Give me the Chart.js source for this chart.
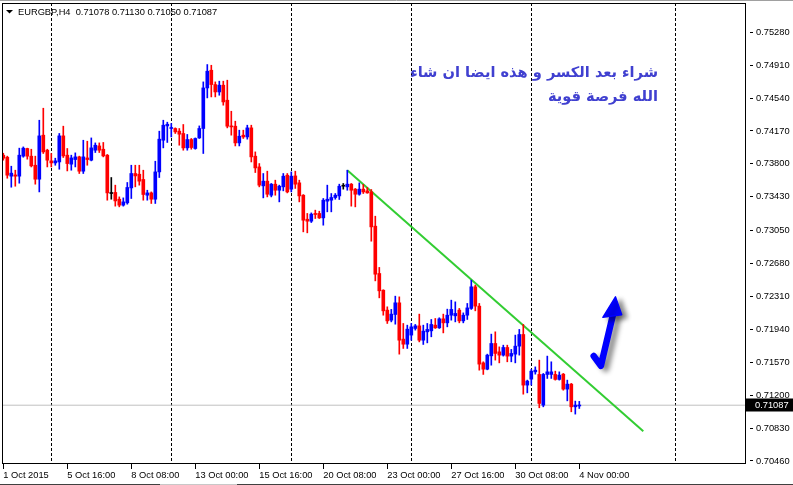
<!DOCTYPE html>
<html><head><meta charset="utf-8">
<script src="https://cdn.jsdelivr.net/npm/chart.js@4"></script>
<style>html,body{margin:0;padding:0;background:#fff;overflow:hidden}canvas{display:block}</style>
</head><body>
<canvas id="c" width="793" height="485"></canvas>
<script>
// ---- data (EURGBP H4) ----
const opens = [0.73898,0.73875,0.73662,0.73676,0.73662,0.73887,0.73973,0.73887,0.73785,0.73628,
0.74123,0.73954,0.73834,0.73811,0.73822,0.74115,0.73898,0.73797,0.73849,0.73879,
0.73718,0.73867,0.73842,0.73954,0.74002,0.73965,0.73898,0.73467,0.73479,0.73403,
0.73336,0.73362,0.73530,0.73692,0.73684,0.73625,0.73448,0.73474,0.73403,0.73710,
0.74066,0.74227,0.74198,0.74198,0.74168,0.74142,0.73980,0.74074,0.73973,0.74092,
0.74198,0.74654,0.74853,0.74692,0.74609,0.74685,0.74516,0.74227,0.74224,0.74036,
0.74123,0.74103,0.74205,0.73887,0.73766,0.73553,0.73606,0.73448,0.73572,0.73504,
0.73542,0.73673,0.73516,0.73665,0.73587,0.73448,0.73178,0.73156,0.73243,0.73243,
0.73193,0.73381,0.73392,0.73422,0.73440,0.73549,0.73542,0.73572,0.73516,0.73459,
0.73516,0.73497,0.73485,0.73100,0.72568,0.72380,0.72156,0.72043,0.72107,0.72238,
0.71830,0.71773,0.71875,0.71950,0.71979,0.71818,0.71912,0.71923,0.71987,0.71957,
0.72058,0.72013,0.72099,0.72092,0.72156,0.72035,0.72099,0.72175,0.72418,0.72201,
0.71563,0.71492,0.71642,0.71781,0.71687,0.71650,0.71736,0.71639,0.71661,0.71751,
0.71882,0.71313,0.71380,0.71462,0.71433,0.71088,0.71433,0.71433,0.71433,0.71377,
0.71436,0.71268,0.71324,0.71069,0.71078];
const highs = [0.73920,0.73887,0.73774,0.73729,0.73977,0.73991,0.73977,0.73965,0.73887,0.74291,
0.74426,0.73965,0.73917,0.73864,0.74142,0.74224,0.73973,0.73898,0.73924,0.73887,
0.74066,0.74055,0.74092,0.74036,0.74036,0.74041,0.73906,0.73647,0.73561,0.73429,
0.73418,0.73591,0.73785,0.73785,0.73785,0.73729,0.73504,0.73485,0.73830,0.74168,
0.74291,0.74269,0.74254,0.74205,0.74198,0.74243,0.74131,0.74086,0.74092,0.74227,
0.74722,0.74917,0.74909,0.74722,0.74730,0.74730,0.74741,0.74392,0.74280,0.74179,
0.74179,0.74235,0.74235,0.73935,0.73804,0.73692,0.73718,0.73580,0.73617,0.73561,
0.73692,0.73692,0.73710,0.73718,0.73617,0.73455,0.73243,0.73249,0.73280,0.73268,
0.73411,0.73561,0.73467,0.73467,0.73572,0.73580,0.73729,0.73580,0.73524,0.73587,
0.73569,0.73535,0.73512,0.73212,0.72636,0.72385,0.72193,0.72164,0.72313,0.72305,
0.72006,0.71987,0.72006,0.71995,0.72111,0.71987,0.72006,0.72051,0.72062,0.72070,
0.72111,0.72167,0.72268,0.72249,0.72175,0.72125,0.72231,0.72493,0.72437,0.72231,
0.71575,0.71661,0.71886,0.71912,0.71743,0.71762,0.71762,0.71714,0.71875,0.71939,
0.71995,0.71369,0.71489,0.71518,0.71594,0.71444,0.71639,0.71575,0.71470,0.71462,
0.71444,0.71369,0.71332,0.71133,0.71130];
const lows = [0.73842,0.73639,0.73538,0.73549,0.73583,0.73875,0.73853,0.73766,0.73572,0.73485,
0.73917,0.73766,0.73766,0.73785,0.73740,0.73872,0.73721,0.73729,0.73766,0.73692,
0.73692,0.73785,0.73834,0.73928,0.73928,0.73879,0.73392,0.73403,0.73325,0.73317,
0.73325,0.73347,0.73411,0.73542,0.73561,0.73392,0.73392,0.73355,0.73355,0.73647,
0.73980,0.74041,0.74103,0.74142,0.74010,0.73954,0.73954,0.73965,0.73965,0.74086,
0.73917,0.74542,0.74553,0.74553,0.74572,0.74460,0.74205,0.74123,0.74002,0.74002,
0.74086,0.74078,0.73822,0.73703,0.73542,0.73418,0.73429,0.73429,0.73448,0.73373,
0.73497,0.73474,0.73485,0.73524,0.73373,0.73036,0.73025,0.73141,0.73186,0.73186,
0.73111,0.73261,0.73261,0.73403,0.73400,0.73516,0.73504,0.73325,0.73317,0.73448,
0.73467,0.73470,0.72931,0.72485,0.72294,0.72099,0.72006,0.72024,0.71998,0.71661,
0.71725,0.71725,0.71818,0.71931,0.71799,0.71770,0.71788,0.71856,0.71950,0.71950,
0.71900,0.71968,0.72043,0.72024,0.72013,0.72013,0.72051,0.72164,0.72148,0.71481,
0.71433,0.71485,0.71537,0.71594,0.71563,0.71639,0.71575,0.71575,0.71563,0.71650,
0.71211,0.71226,0.71313,0.71436,0.71058,0.71069,0.71388,0.71388,0.71369,0.71369,
0.71256,0.71136,0.71013,0.70987,0.71050];
const closes = [0.73864,0.73673,0.73696,0.73662,0.73898,0.73977,0.73887,0.73778,0.73628,0.74115,
0.73935,0.73842,0.73811,0.73834,0.74115,0.73890,0.73804,0.73867,0.73879,0.73718,
0.73879,0.73849,0.73980,0.74010,0.73954,0.73890,0.73474,0.73467,0.73384,0.73336,
0.73373,0.73535,0.73692,0.73665,0.73606,0.73456,0.73474,0.73403,0.73710,0.74078,
0.74235,0.74246,0.74209,0.74160,0.74134,0.73980,0.74074,0.73984,0.74086,0.74198,
0.74654,0.74842,0.74692,0.74609,0.74685,0.74497,0.74224,0.74216,0.74036,0.74111,
0.74103,0.74205,0.73879,0.73755,0.73561,0.73606,0.73459,0.73572,0.73504,0.73549,
0.73662,0.73485,0.73662,0.73572,0.73440,0.73167,0.73156,0.73235,0.73231,0.73193,
0.73392,0.73403,0.73422,0.73448,0.73549,0.73549,0.73572,0.73504,0.73459,0.73516,
0.73485,0.73474,0.73092,0.72560,0.72373,0.72148,0.72035,0.72111,0.72238,0.71818,
0.71773,0.71942,0.71968,0.71979,0.71818,0.71920,0.71939,0.71995,0.71957,0.72058,
0.72013,0.72099,0.72164,0.72119,0.72035,0.72099,0.72181,0.72418,0.72201,0.71549,
0.71492,0.71650,0.71781,0.71669,0.71650,0.71736,0.71639,0.71669,0.71751,0.71882,
0.71313,0.71358,0.71470,0.71481,0.71107,0.71433,0.71462,0.71462,0.71377,0.71425,
0.71268,0.71324,0.71069,0.71088,0.71087];
const xTickIndex = [0,16,32,48,64,80,96,112,128,144];
const xTickLabels = ['1 Oct 2015','5 Oct 16:00','8 Oct 08:00','13 Oct 00:00','15 Oct 16:00','20 Oct 08:00','23 Oct 00:00','27 Oct 16:00','30 Oct 08:00','4 Nov 00:00'];
const separatorIndex = [12,42,72,102,132,168];
const yTicks = [0.75280,0.74910,0.74540,0.74170,0.73800,0.73430,0.73050,0.72680,0.72310,0.71940,0.71570,0.71200,0.70830,0.70460];
const trendIndex = [86,160];
const trendPrice = [0.73729,0.70795];
const arrowIndex = [147.6,149.4,151.0,152.5];
const arrowPrice = [0.71640,0.71530,0.71830,0.72120];
const arrowHeadIndex = [153.05,149.9,154.6];
const arrowHeadPrice = [0.72305,0.72075,0.72105];
const symbolTitle = 'EURGBP,H4  0.71078 0.71130 0.71050 0.71087';
const lastPrice = 0.71087;
const noteLines = ['شراء بعد الكسر و هذه ايضا ان شاء','الله فرصة قوية'];

// ---- chart ----
const X_MIN = -0.325, X_MAX = 185.675, Y_MIN = 0.70426, Y_MAX = 0.75609;
const idx = opens.map((_, i) => i);
const candleColor = idx.map(i => closes[i] > opens[i] ? '#0000FF' : (closes[i] < opens[i] ? '#FF0000' : '#000000'));
const FONT = 'Liberation Sans';

const decor = {
  id: 'decor',
  beforeDraw(chart) {
    const c = chart.ctx; c.save(); c.fillStyle = '#fff'; c.fillRect(0, 0, chart.width, chart.height); c.restore();
  },
  afterDraw(chart) {
    const c = chart.ctx, a = chart.chartArea, xs = chart.scales.x, ys = chart.scales.y;
    c.save();
    // frame
    c.strokeStyle = '#000'; c.lineWidth = 1;
    c.strokeRect(a.left + 0.5, a.top + 0.5, a.right - a.left - 1, a.bottom - a.top - 1);
    c.strokeStyle = '#a0a0a0';
    c.beginPath(); c.moveTo(0, 0.5); c.lineTo(chart.width, 0.5); c.stroke();
    c.strokeStyle = '#404040';
    c.beginPath(); c.moveTo(0, 484.5); c.lineTo(160, 484.5); c.moveTo(237, 484.5); c.lineTo(chart.width, 484.5); c.stroke();
    c.strokeStyle = '#c8c8c8';
    c.beginPath(); c.moveTo(160, 484.5); c.lineTo(237, 484.5); c.stroke();
    // symbol title
    c.fillStyle = '#000';
    c.beginPath(); c.moveTo(a.left + 4, 10); c.lineTo(a.left + 11, 10); c.lineTo(a.left + 7.5, 13.5); c.closePath(); c.fill();
    c.font = '9.3px "' + FONT + '"'; c.textBaseline = 'middle'; c.textAlign = 'left';
    c.fillText(symbolTitle, a.left + 16, 12);
    // last price label
    const py = ys.getPixelForValue(lastPrice);
    c.fillStyle = '#000'; c.fillRect(a.right, Math.round(py) - 6.5, chart.width - a.right, 13);
    c.fillStyle = '#fff'; c.fillText(lastPrice.toFixed(5), a.right + 9, py + 0.5);
    // arabic note
    c.fillStyle = '#4040D0'; c.direction = 'rtl'; c.textAlign = 'right'; c.textBaseline = 'alphabetic';
    c.font = 'bold 15px "DejaVu Sans"';
    const w = c.measureText(noteLines[0]).width;
    const fs = 15 * 248 / w;
    c.font = 'bold ' + fs.toFixed(2) + 'px "DejaVu Sans"';
    c.fillText(noteLines[0], 658, 77);
    c.fillText(noteLines[1], 658, 101);
    // arrow
    const P = (i, p) => [xs.getPixelForValue(i), ys.getPixelForValue(p)];
    c.direction = 'ltr';
    c.shadowColor = 'rgba(0,0,0,0.45)'; c.shadowBlur = 5; c.shadowOffsetX = 5; c.shadowOffsetY = 3;
    c.strokeStyle = '#0000FF'; c.fillStyle = '#0000FF'; c.lineWidth = 6.5; c.lineCap = 'round'; c.lineJoin = 'round';
    const p0 = P(arrowIndex[0], arrowPrice[0]), p1 = P(arrowIndex[1], arrowPrice[1]), p2 = P(arrowIndex[2], arrowPrice[2]), p3 = P(arrowIndex[3], arrowPrice[3]);
    c.beginPath(); c.moveTo(p0[0], p0[1]); c.lineTo(p1[0], p1[1]); c.quadraticCurveTo(p2[0], p2[1], p3[0], p3[1]); c.stroke();
    const h0 = P(arrowHeadIndex[0], arrowHeadPrice[0]), h1 = P(arrowHeadIndex[1], arrowHeadPrice[1]), h2 = P(arrowHeadIndex[2], arrowHeadPrice[2]);
    c.lineWidth = 1.5;
    c.beginPath(); c.moveTo(h0[0], h0[1]); c.lineTo(h1[0], h1[1]); c.lineTo(h2[0], h2[1]); c.closePath(); c.fill(); c.stroke();
    c.restore();
  }
};

new Chart(document.getElementById('c'), {
  type: 'bar',
  data: {
    datasets: [
      { label: 'body', data: idx.map(i => ({x: i, y: [opens[i], closes[i]]})), backgroundColor: candleColor,
        barThickness: 3, minBarLength: 1, grouped: false, borderWidth: 0 },
      { label: 'wick', data: idx.map(i => ({x: i, y: [lows[i], highs[i]]})), backgroundColor: candleColor,
        barThickness: 1, grouped: false, borderWidth: 0 },
      { type: 'line', label: 'trend', data: trendIndex.map((v, k) => ({x: v, y: trendPrice[k]})),
        borderColor: '#32CD32', borderWidth: 2, pointRadius: 0, tension: 0 },
      { type: 'line', label: 'last', data: [{x: X_MIN, y: lastPrice}, {x: X_MAX, y: lastPrice}],
        borderColor: '#C0C0C0', borderWidth: 1, pointRadius: 0 }
    ]
  },
  options: {
    responsive: false, animation: false, events: [],
    layout: { padding: { left: 2, top: 3, right: 0, bottom: 0 }, autoPadding: false },
    plugins: { legend: { display: false }, tooltip: { enabled: false }, title: { display: false } },
    scales: {
      x: { type: 'linear', min: X_MIN, max: X_MAX, offset: false, position: 'bottom',
        afterBuildTicks: s => { s.ticks = xTickIndex.map(v => ({value: v})); },
        afterFit: s => { s.height = 21; s.paddingLeft = 0; s.paddingRight = 0; },
        ticks: { autoSkip: false, maxRotation: 0, align: 'start', padding: 1, color: '#000',
          font: { family: FONT, size: 9.3 }, callback: v => xTickLabels[xTickIndex.indexOf(v)] },
        grid: { drawOnChartArea: false, offset: false, tickLength: 5, color: '#000' },
        border: { display: false } },
      xs: { type: 'linear', min: X_MIN, max: X_MAX, offset: false, position: 'bottom', display: true,
        afterBuildTicks: s => { s.ticks = separatorIndex.map(v => ({value: v})); },
        afterFit: s => { s.height = 0; s.paddingLeft = 0; s.paddingRight = 0; },
        ticks: { display: false },
        grid: { drawTicks: false, offset: false, color: '#000', lineWidth: 1 },
        border: { display: false, dash: [3, 2] } },
      y: { type: 'linear', min: Y_MIN, max: Y_MAX, position: 'right', beginAtZero: false,
        afterBuildTicks: s => { s.ticks = yTicks.map(v => ({value: v})); },
        afterFit: s => { s.width = 47; s.paddingTop = 0; s.paddingBottom = 0; },
        ticks: { padding: 3, color: '#000', font: { family: FONT, size: 9.3 }, callback: v => v.toFixed(5) },
        grid: { drawOnChartArea: false, tickLength: 7, color: '#000', tickBorderDash: [0, 4, 3, 50] },
        border: { display: false } }
    }
  },
  plugins: [decor]
});
</script>
</body></html>
